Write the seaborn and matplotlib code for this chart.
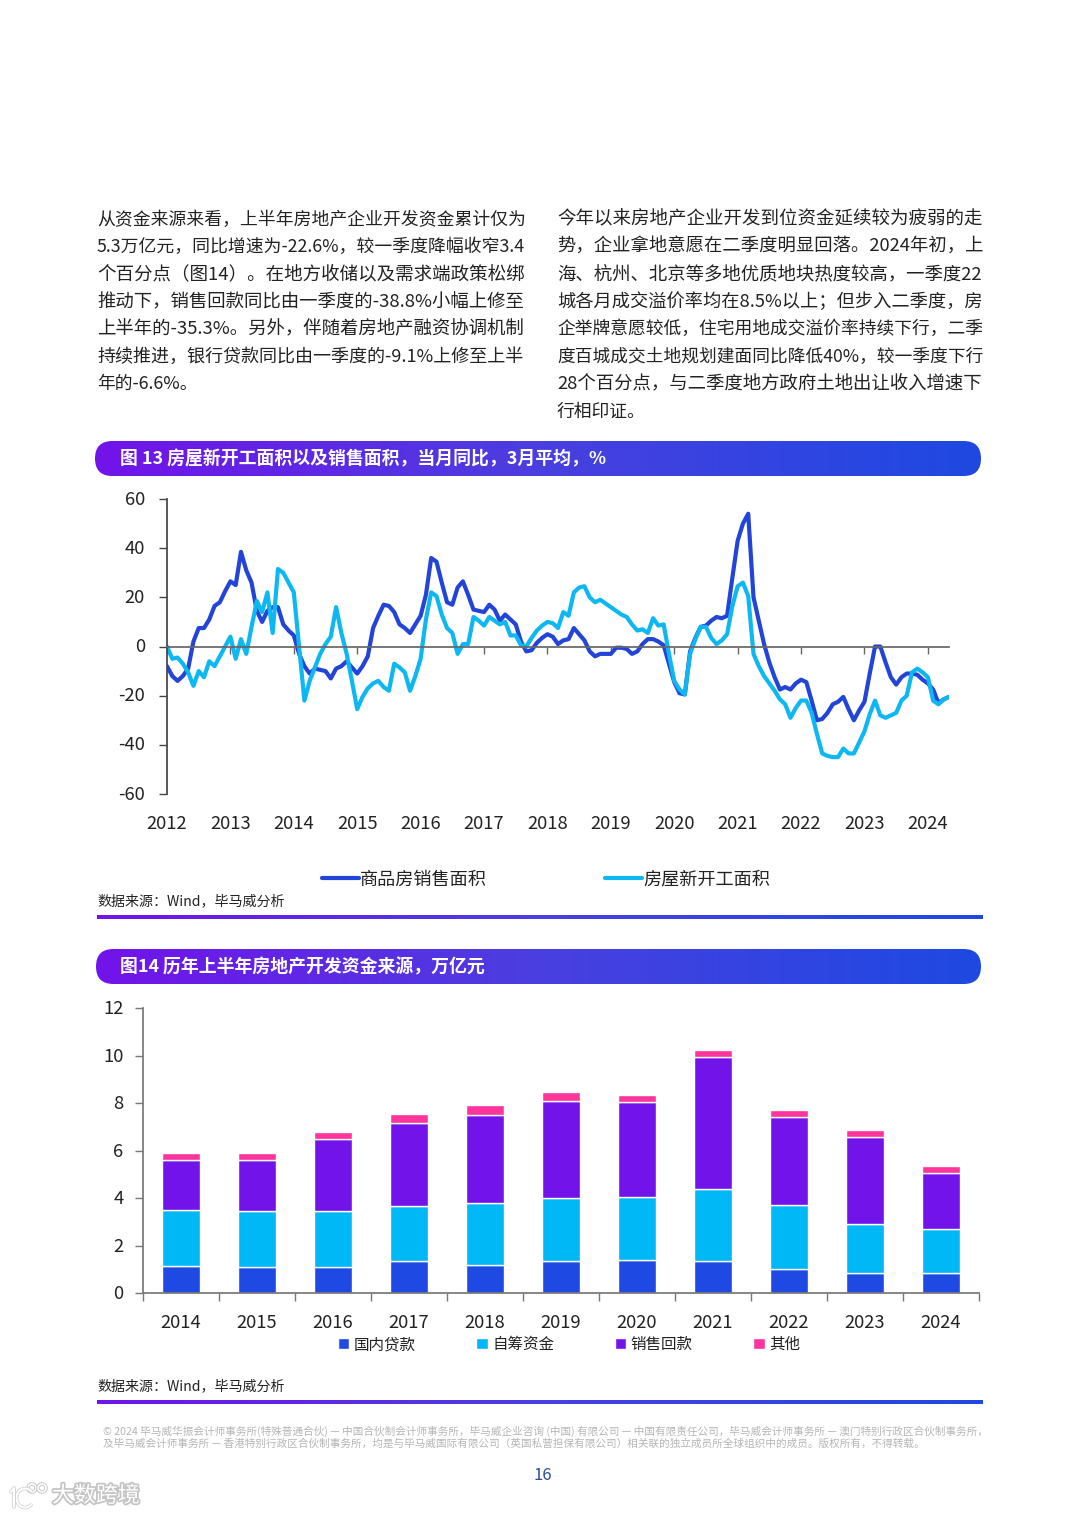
"""Report page: two charts on property starts, sales and funding sources."""

import matplotlib
matplotlib.use("Agg")
import matplotlib.pyplot as plt
import matplotlib.patheffects as pe
from matplotlib.patches import Arc, Circle, FancyBboxPatch
from matplotlib.transforms import ScaledTranslation
import numpy as np
import pandas as pd
import seaborn as sns

sns.set_theme(style="white")
plt.rcParams["font.family"] = ["Noto Sans CJK SC", "DejaVu Sans"]
plt.rcParams["axes.unicode_minus"] = False

W, H = 1080, 1516
BLUE, CYAN, PURPLE, PINK = "#1E49E2", "#00B8F5", "#7213EA", "#FD349C"
LINE_BLUE = "#2344D8"
LINE_CYAN = "#0DB8F2"
INK = "#222222"

# --- figure 13 ---
sales = [
    -8, -12, -14, -12, -9, 2, 7.5, 7.5, 11, 16.5, 18, 22.5, 26.5, 25, 38.5, 31, 26, 14.5, 10, 14.5,
    16, 16, 9, 6.5, 4.5, -3, -8, -11, -9, -9.5, -10, -13, -9, -8, -6, -8.5, -11, -8, -4, 7.5,
    12.5, 17, 16.5, 14, 9, 7.5, 5.5, 9, 12.5, 21, 36, 34.5, 26, 18, 17, 24, 26.5, 21, 15, 14.5,
    14, 17, 15, 10.5, 13, 11, 9, 2, -2, -1.5, 1.5, 3.5, 5, 4, 1, 2.5, 3, 7.5, 5, 2.5,
    -2, -4, -3, -3, -3, -0.5, -0.5, -1, -3, -2, 1, 3, 3, 2, 0.5, -7, -14.5, -19, -19.5, -2,
    3.5, 8, 8.5, 10.5, 12, 11.5, 12.5, 28, 43, 50, 54, 20, 10.5, 1, -6.5, -12.5, -17.5, -16.5, -17.5, -15,
    -13.5, -14.5, -22, -30, -29.5, -27, -23.5, -22.5, -20.5, -25.5, -30, -26, -22.5, -11, 0, 0, -6.5, -12.5, -15.5, -12.5,
    -11, -11, -11.5, -13.5, -15, -17.5, -23, -21.5, -20.5,
]
starts = [
    0, -5, -4.5, -7, -10.5, -16, -10, -12.5, -6, -8, -4, 0, 4, -5, 3, -3, 8, 18.5, 14, 22,
    5.5, 31.5, 30, 26, 22, 0, -22, -14, -8.5, -3, 1, 4, 16, 5.5, -3, -14, -25.5, -20.5, -17, -15,
    -14, -16.5, -18, -7, -8.5, -10.5, -18, -12, -5, 11, 22, 20.5, 13, 7.5, 5.5, -3, 1, 1, 12, 10.5,
    8.5, 12, 10.5, 9, 10, 4.5, 4.5, 0.5, 0, 3.5, 6.5, 8.5, 10, 9.5, 7.5, 14, 12.5, 22, 24, 24.5,
    20, 18, 19, 17.5, 16, 14.5, 13, 12, 9, 6.5, 7, 5.5, 11.5, 8.5, 9, -3, -14, -17.5, -19.5, -3,
    3, 8, 8, 3.5, 1, 2.5, 5, 16.5, 24.5, 26, 20.5, -3, -8, -12, -15, -18, -21.5, -23.5, -29, -25,
    -22, -22, -27, -35.5, -43.5, -44.5, -45, -45, -41.5, -43.5, -43.5, -39, -34.5, -27.5, -22, -28, -29, -28, -27, -22,
    -20, -10.5, -9, -10.5, -12.5, -22, -23.5, -21.5, -20.5,
]
line_names = ["商品房销售面积", "房屋新开工面积"]
line_years = list(range(2012, 2025))
line_yticks = [-60, -40, -20, 0, 20, 40, 60]

# --- figure 14 ---
fund_years = ["2014", "2015", "2016", "2017", "2018", "2019", "2020", "2021", "2022", "2023", "2024"]
domestic = [1.15, 1.1, 1.1, 1.35, 1.2, 1.35, 1.4, 1.35, 1.0, 0.85, 0.85]
selfraised = [2.35, 2.35, 2.35, 2.3, 2.6, 2.65, 2.65, 3.05, 2.7, 2.05, 1.85]
presale = [2.1, 2.15, 3.05, 3.5, 3.7, 4.1, 4.0, 5.55, 3.7, 3.65, 2.35]
others = [0.3, 0.3, 0.3, 0.4, 0.4, 0.35, 0.3, 0.3, 0.3, 0.3, 0.3]
fund_names = ["国内贷款", "自筹资金", "销售回款", "其他"]
fund_yticks = [0, 2, 4, 6, 8, 10, 12]

# --- page text ---
left_lines = [
    "从资金来源来看，上半年房地产企业开发资金累计仅为",
    "5.3万亿元，同比增速为-22.6%，较一季度降幅收窄3.4",
    "个百分点（图14）。在地方收储以及需求端政策松绑",
    "推动下，销售回款同比由一季度的-38.8%小幅上修至",
    "上半年的-35.3%。另外，伴随着房地产融资协调机制",
    "持续推进，银行贷款同比由一季度的-9.1%上修至上半",
    "年的-6.6%。",
]
right_lines = [
    "今年以来房地产企业开发到位资金延续较为疲弱的走",
    "势，企业拿地意愿在二季度明显回落。2024年初，上",
    "海、杭州、北京等多地优质地块热度较高，一季度22",
    "城各月成交溢价率均在8.5%以上；但步入二季度，房",
    "企举牌意愿较低，住宅用地成交溢价率持续下行，二季",
    "度百城成交土地规划建面同比降低40%，较一季度下行",
    "28个百分点，与二季度地方政府土地出让收入增速下",
    "行相印证。",
]
title_13 = "图 13 房屋新开工面积以及销售面积，当月同比，3月平均，%"
title_14 = "图14 历年上半年房地产开发资金来源，万亿元"
source = "数据来源：Wind，毕马威分析"
footer = [
    "© 2024 毕马威华振会计师事务所(特殊普通合伙) — 中国合伙制会计师事务所，毕马威企业咨询 (中国) 有限公司 — 中国有限责任公司，毕马威会计师事务所 — 澳门特别行政区合伙制事务所，",
    "及毕马威会计师事务所 — 香港特别行政区合伙制事务所，均是与毕马威国际有限公司（英国私营担保有限公司）相关联的独立成员所全球组织中的成员。版权所有，不得转载。",
]


def px_axes(fig, left, top, right, bottom):
    return fig.add_axes([left / W, 1 - bottom / H, (right - left) / W, (bottom - top) / H])


def gradient(page, x0, y0, x1, y1, rounded=False):
    grad = np.linspace(0, 1, 256).reshape(1, -1)
    cmap = matplotlib.colors.LinearSegmentedColormap.from_list("kpmg", [PURPLE, "#4A3FE0", BLUE])
    im = page.imshow(grad, cmap=cmap, extent=(x0, x1, y1, y0), aspect="auto", zorder=2)
    if rounded:
        r = (y1 - y0) / 2
        patch = FancyBboxPatch((x0 + r, y0 + r), x1 - x0 - 2 * r, 0.01,
                               boxstyle=f"round,pad={r},rounding_size={r}",
                               transform=page.transData, fc="none", ec="none")
        page.add_patch(patch)
        im.set_clip_path(patch)


def fit_width(fig, label, target):
    # the source page justifies its paragraphs, so scale each full line to the column
    width = label.get_window_extent(fig.canvas.get_renderer()).width
    label.set_fontsize(label.get_fontsize() * target / width)


def draw_paragraph(fig, page, lines, x0, x1):
    for i, line in enumerate(lines):
        label = page.text(x0, 219.5 + i * 27.45, line, fontsize=12.8, color=INK, va="center")
        if i < len(lines) - 1:
            fit_width(fig, label, x1 - x0)


def draw_watermark(page):
    glow = [pe.withStroke(linewidth=2.5, foreground="#c4c4c4")]
    page.text(52, 1496, "大数跨境", fontsize=15.8, color="white", va="center", path_effects=glow)
    shapes = [
        Circle((32, 1488), 4, fc="none", ec="white", lw=1.2),
        Circle((42, 1488), 4, fc="none", ec="white", lw=1.2),
        Arc((25, 1498), 17, 19, theta1=40, theta2=320, ec="white", lw=1.6),
    ]
    for shape in shapes:
        shape.set_path_effects(glow)
        page.add_patch(shape)
    page.plot([11, 14, 14], [1492, 1488, 1507], color="white", lw=1.6, path_effects=glow)


def draw_page(fig):
    page = fig.add_axes([0, 0, 1, 1], zorder=0)
    page.set_xlim(0, W)
    page.set_ylim(H, 0)
    page.axis("off")

    draw_paragraph(fig, page, left_lines, 97, 524)
    draw_paragraph(fig, page, right_lines, 557, 982)

    gradient(page, 95, 441, 981, 476, rounded=True)
    gradient(page, 96, 949, 981, 984, rounded=True)
    gradient(page, 97, 915, 983, 919)
    gradient(page, 97, 1400, 983, 1404)
    page.text(120, 459, title_13, fontsize=12.87, color="white", weight="bold", va="center", zorder=3)
    page.text(120, 967, title_14, fontsize=12.87, color="white", weight="bold", va="center", zorder=3)
    page.text(97, 901, source, fontsize=10.1, color=INK, va="center")
    page.text(97, 1386, source, fontsize=10.1, color=INK, va="center")
    page.text(103, 1431, footer[0], fontsize=7.62, color="#b5b5b5", va="center")
    page.text(103, 1444, footer[1], fontsize=7.62, color="#b5b5b5", va="center")
    page.text(543, 1475, "16", fontsize=12, color="#2B4C9B", ha="center", va="center")
    draw_watermark(page)


def nudge_ylabels(fig, ax, points):
    shift = ScaledTranslation(0, points / 72, fig.dpi_scale_trans)
    for label in ax.get_yticklabels():
        label.set_transform(label.get_transform() + shift)


def draw_lines(fig):
    ax = px_axes(fig, 167, 499, 949, 794)
    ax.patch.set_alpha(0)
    n = len(sales)
    x = 2012 + np.arange(n) / 12
    df = pd.DataFrame({
        "x": np.concatenate([x, x]),
        "value": sales + starts,
        "series": [line_names[0]] * n + [line_names[1]] * n,
    })
    sns.lineplot(data=df, x="x", y="value", hue="series", palette=[LINE_BLUE, LINE_CYAN], linewidth=3,
                 ax=ax, legend=True, errorbar=None)
    ax.set_xlim(2012, x[-1])
    ax.set_ylim(-60, 60)
    ax.set_xlabel("")
    ax.set_ylabel("")
    ax.set_xticks(line_years)
    ax.set_yticks(line_yticks)
    ax.set_xticklabels([])
    for year in line_years:
        ax.annotate(str(year), (year, 0), xycoords=("data", "axes fraction"), xytext=(0, -21.5),
                    textcoords="offset points", ha="center", va="center", fontsize=13.2, color=INK,
                    annotation_clip=False)
    ax.tick_params(axis="x", length=5, width=1, color="#666666", direction="out", bottom=True)
    ax.tick_params(axis="y", length=6, width=1, color="#444444", labelsize=13.2, labelcolor=INK, left=True, pad=10)
    nudge_ylabels(fig, ax, 1)
    for side in ["top", "right"]:
        ax.spines[side].set_visible(False)
    ax.spines["bottom"].set_position(("data", 0))
    ax.spines["bottom"].set_color("#666666")
    ax.spines["left"].set_color("#444444")
    ax.grid(False)
    handles, labels = ax.get_legend_handles_labels()
    ax.legend(handles, labels, loc="center", bbox_to_anchor=((546 - 167) / 782, -85.5 / 295), ncol=2, frameon=False,
              fontsize=13.05, handlelength=2.05, handletextpad=0.08, columnspacing=6.5, labelcolor=INK)


def draw_bars(fig):
    ax = px_axes(fig, 143, 1008, 979, 1293)
    ax.patch.set_alpha(0)
    series = [domestic, selfraised, presale, others]
    bottom = np.zeros(len(fund_years))
    for name, values, color in zip(fund_names, series, [BLUE, CYAN, PURPLE, PINK]):
        df = pd.DataFrame({"year": fund_years, "value": values})
        sns.barplot(data=df, x="year", y="value", color=color, width=0.5, bottom=bottom, ax=ax,
                    label=name, saturation=1, errorbar=None)
        bottom = bottom + np.array(values)
    ax.set_xlim(-0.5, len(fund_years) - 0.5)
    ax.set_ylim(0, 12)
    ax.set_xlabel("")
    ax.set_ylabel("")
    ax.set_yticks(fund_yticks)
    ax.set_xticks(np.arange(len(fund_years) + 1) - 0.5, minor=True)
    ax.tick_params(axis="x", which="major", length=0, labelsize=13.2, labelcolor=INK, pad=15)
    ax.tick_params(axis="x", which="minor", length=6, width=1, color="#777777", bottom=True)
    ax.tick_params(axis="y", length=6, width=1, color="#777777", labelsize=13.2, labelcolor=INK, left=True, pad=8)
    nudge_ylabels(fig, ax, 0.5)
    for side in ["top", "right"]:
        ax.spines[side].set_visible(False)
    ax.spines["bottom"].set_color("#777777")
    ax.spines["left"].set_color("#777777")
    ax.grid(False)
    ax.legend(loc="center", bbox_to_anchor=((569 - 143) / 836, -51.5 / 285), ncol=4, frameon=False, fontsize=11.2,
              handlelength=0.75, handleheight=0.75, handletextpad=0.3, columnspacing=3.86, labelcolor=INK)


def main():
    fig = plt.figure(figsize=(W / 100, H / 100), dpi=100, facecolor="white")
    draw_page(fig)
    draw_lines(fig)
    draw_bars(fig)
    fig.savefig("out.png", dpi=100)
    plt.close(fig)


if __name__ == "__main__":
    main()
